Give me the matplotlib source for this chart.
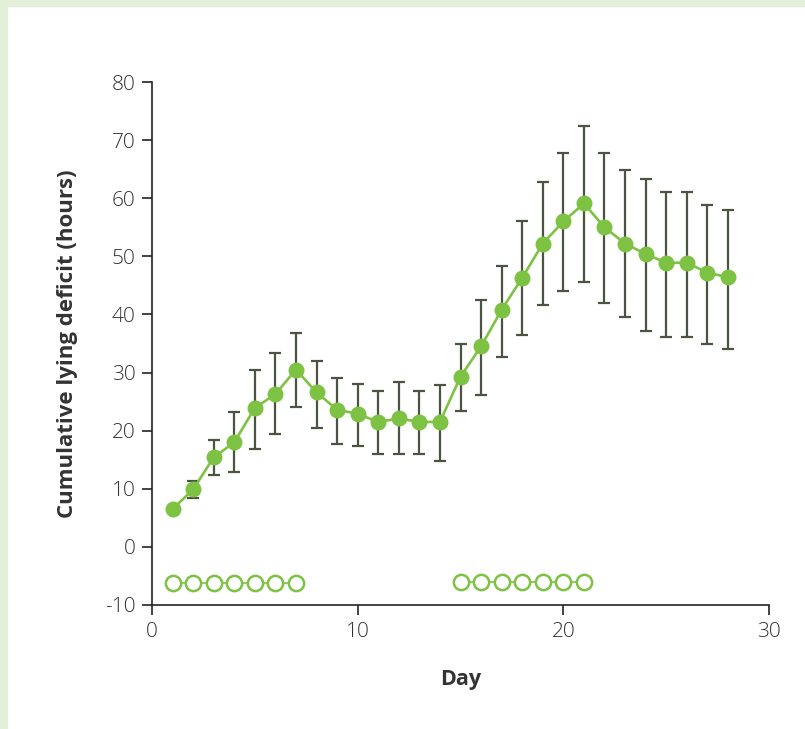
import numpy as np
import matplotlib.pyplot as plt
from matplotlib.patches import Rectangle

# Data
days = np.arange(1, 29)
deficit = [6.5, 9.9, 15.4, 18.0, 23.9, 26.3, 30.5, 26.6, 23.6, 22.9,
           21.5, 22.1, 21.5, 21.5, 29.3, 34.5, 40.8, 46.3, 52.2, 56.0,
           59.1, 55.0, 52.2, 50.4, 48.9, 48.9, 47.2, 46.4]
err_top = [np.nan, 11.4, 18.4, 23.2, 30.4, 33.3, 36.8, 32.0, 29.1, 28.1,
           26.8, 28.4, 26.9, 27.8, 35.0, 42.5, 48.4, 56.1, 62.8, 67.7,
           72.5, 67.7, 64.8, 63.3, 61.0, 61.0, 58.9, 57.9]
err_bottom = [np.nan, 8.4, 12.3, 12.9, 16.9, 19.4, 24.1, 20.5, 17.7, 17.4,
              15.9, 15.9, 15.9, 14.8, 23.4, 26.2, 32.7, 36.4, 41.6, 44.1,
              45.6, 42.0, 39.5, 37.2, 36.2, 36.2, 34.9, 34.1]

period1_days = [1, 2, 3, 4, 5, 6, 7]
period1_y = [-6.2] * 7
period2_days = [15, 16, 17, 18, 19, 20, 21]
period2_y = [-6.0] * 7

green = '#7dc243'
bar_col = '#4b5343'
text_col = '#333333'

plt.rcParams['font.family'] = ['Open Sans', 'DejaVu Sans']
plt.rcParams['axes.unicode_minus'] = False

fig = plt.figure(figsize=(8.05, 7.29), dpi=100)
ax = fig.add_axes([0.1888, 0.1701, 0.7665, 0.7174])

# light green frame on top and left
fig.patches.append(Rectangle((0, 0), 0.0087, 1, transform=fig.transFigure,
                             color='#e2efd9', zorder=0))
fig.patches.append(Rectangle((0, 0.9918), 1, 0.0082, transform=fig.transFigure,
                             color='#e2efd9', zorder=0))

y = np.array(deficit)
lower = y - np.array(err_bottom)
upper = np.array(err_top) - y
ax.errorbar(days, y, yerr=[lower, upper], fmt='none', ecolor=bar_col,
            elinewidth=1.6, capsize=4.3, capthick=1.6, zorder=2)
ax.plot(days, y, color=green, lw=1.9, marker='o', markersize=11.5,
        markeredgewidth=0, zorder=3)

for d, v in [(period1_days, period1_y), (period2_days, period2_y)]:
    ax.plot(d, v, color=green, lw=1.2, marker='o', markersize=11,
            markerfacecolor='white', markeredgecolor=green,
            markeredgewidth=1.8, zorder=3)

ax.set_xlim(0, 30)
ax.set_ylim(-10, 80)
ax.set_xticks([0, 10, 20, 30])
ax.set_yticks(np.arange(-10, 81, 10))
for s in ['top', 'right']:
    ax.spines[s].set_visible(False)
for s in ['left', 'bottom']:
    ax.spines[s].set_color('#222222')
    ax.spines[s].set_linewidth(1.2)
ax.tick_params(direction='out', length=7, width=1.2, color='#222222',
               labelsize=15, labelcolor=text_col, pad=5)
for lab in ax.get_xticklabels() + ax.get_yticklabels():
    lab.set_fontweight('light')

ax.set_xlabel('Day', fontsize=15.5, fontweight='bold', color=text_col, labelpad=20)
ax.set_ylabel('Cumulative lying deficit (hours)', fontsize=16,
              fontweight='bold', color=text_col, labelpad=19)

fig.savefig('out.png', dpi=100)
